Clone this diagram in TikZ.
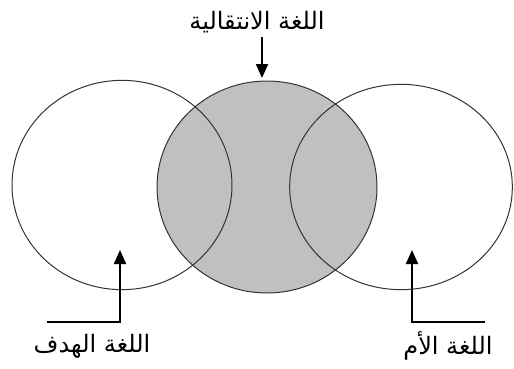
\documentclass[tikz,border=0pt]{standalone}
\usepackage{fontspec}
\usetikzlibrary{arrows.meta,shapes.geometric}
\TeXXeTstate=1
\newfontfamily\arabicfont[Script=Arabic]{DejaVu Sans}
\definecolor{Shade}{HTML}{C0C0C0}
\definecolor{Rim}{HTML}{333333}

\begin{document}
\begin{tikzpicture}[x=0.75pt, y=-0.75pt, >={Triangle[width=9pt,length=10.5pt]},
    lang/.style={ellipse, draw=Rim, line width=0.75pt, inner sep=0pt},
    label/.style={font=\arabicfont\fontsize{18}{20}\selectfont, inner sep=0pt},
    pointer/.style={->, line width=1.5pt}]
    \useasboundingbox (0,0) rectangle (514,368);
    \node[lang, fill=Shade, minimum width=165pt, minimum height=159pt] (mid) at (267,187) {};
    \node[lang, minimum width=165pt, minimum height=157pt] (target) at (122,185) {};
    \node[lang, minimum width=167pt, minimum height=154pt] (mother) at (401,187) {};
    \node[label] (midlabel) at (257,22) {\beginR اللغة الانتقالية\endR};
    \node[label] (targetlabel) at (92,346) {\beginR اللغة الهدف\endR};
    \node[label] (motherlabel) at (448,346) {\beginR اللغة الأم\endR};
    \coordinate (midtail) at (262,37);
    \coordinate (midtip) at (262,78);
    \coordinate (targettail) at (47,322);
    \coordinate (targettip) at (120,250);
    \coordinate (mothertail) at (485,322);
    \coordinate (mothertip) at (412,250);
    \draw[pointer] (midtail) -- (midtip);
    \draw[pointer] (targettail) -| (targettip);
    \draw[pointer] (mothertail) -| (mothertip);
\end{tikzpicture}
\end{document}
